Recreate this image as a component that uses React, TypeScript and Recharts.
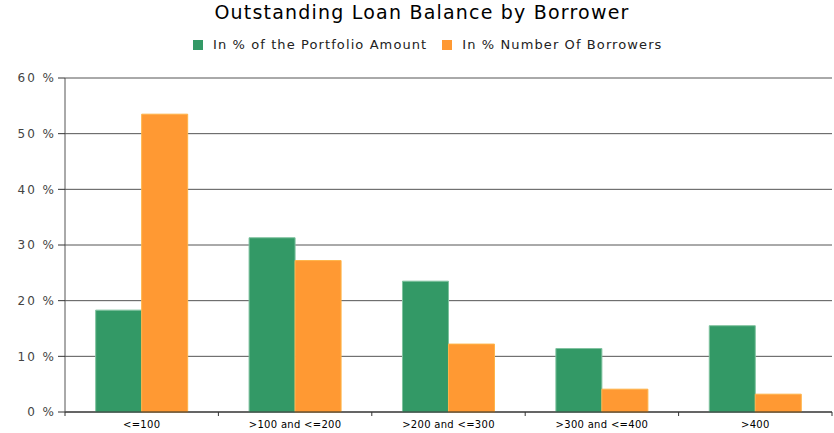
import { Bar, BarChart, CartesianGrid, XAxis, YAxis } from "recharts";

const categories = ["<=100", ">100 and <=200", ">200 and <=300", ">300 and <=400", ">400"];
const portfolioAmount = [18.3, 31.3, 23.5, 11.4, 15.5];
const numberOfBorrowers = [53.5, 27.2, 12.2, 4.1, 3.2];
const yTicks = [0, 10, 20, 30, 40, 50, 60];

const data = categories.map((name, i) => ({
  name,
  amount: portfolioAmount[i],
  borrowers: numberOfBorrowers[i],
}));

const GREEN = "#339966";
const ORANGE = "#ff9933";
const FONT = "'DejaVu Sans', Verdana, sans-serif";

const PLOT_LEFT = 65;
const PLOT_RIGHT = 832;
const BAND = (PLOT_RIGHT - PLOT_LEFT) / categories.length;

function CategoryTick({ x, y, payload, index }: any) {
  const left = x - BAND / 2;
  return (
    <g>
      <line x1={left} x2={left} y1={y - 8} y2={y - 4} stroke="#333" />
      {index === categories.length - 1 && (
        <line x1={x + BAND / 2} x2={x + BAND / 2} y1={y - 8} y2={y - 4} stroke="#333" />
      )}
      <text x={x} y={y + 8} textAnchor="middle" fontSize={10} fill="#000" fontFamily={FONT} letterSpacing={0.3}>
        {payload.value}
      </text>
    </g>
  );
}

function ChartLegend() {
  const items = [
    { label: "In % of the Portfolio Amount", color: GREEN },
    { label: "In % Number Of Borrowers", color: ORANGE },
  ];
  return (
    <div
      style={{
        position: "absolute",
        top: 37,
        left: 193,
        display: "flex",
        gap: 15,
        fontFamily: FONT,
        fontSize: 13,
        letterSpacing: 1.1,
        whiteSpace: "nowrap",
      }}
    >
      {items.map((it) => (
        <div key={it.label} style={{ display: "flex", alignItems: "center" }}>
          <span style={{ width: 10, height: 10, background: it.color, marginRight: 10, display: "inline-block" }} />
          <span style={{ color: "#222" }}>{it.label}</span>
        </div>
      ))}
    </div>
  );
}

export default function App() {
  return (
    <div style={{ position: "absolute", left: 0, top: 0, width: 834, height: 433, background: "#fff" }}>
      <BarChart
        width={834}
        height={433}
        data={data}
        margin={{ top: 78, right: 834 - PLOT_RIGHT, bottom: 0, left: 0 }}
        barCategoryGap="20%"
        barGap={0}
      >
        <CartesianGrid vertical={false} stroke="#555" strokeWidth={1} />
        <XAxis
          dataKey="name"
          height={21}
          axisLine={{ stroke: "#222" }}
          tickLine={false}
          interval={0}
          tick={<CategoryTick />}
        />
        <YAxis
          width={PLOT_LEFT}
          domain={[0, 60]}
          ticks={yTicks}
          interval={0}
          axisLine={{ stroke: "#555" }}
          tickLine={{ stroke: "#333" }}
          tickSize={7}
          tickFormatter={(v: number) => `${v} %`}
          tick={{ fontSize: 12, fill: "#444", fontFamily: FONT, letterSpacing: 2 }}
        />
        <Bar dataKey="amount" name="In % of the Portfolio Amount" fill={GREEN} stroke="#7fc29f" strokeWidth={1} isAnimationActive={false} />
        <Bar dataKey="borrowers" name="In % Number Of Borrowers" fill={ORANGE} stroke="#ffb347" strokeWidth={1} isAnimationActive={false} />
      </BarChart>
      <div
        style={{
          position: "absolute",
          top: 1,
          left: 0,
          width: 844,
          textAlign: "center",
          fontFamily: FONT,
          fontSize: 19,
          letterSpacing: 1.2,
          color: "#000",
        }}
      >
        Outstanding Loan Balance by Borrower
      </div>
      <ChartLegend />
    </div>
  );
}
